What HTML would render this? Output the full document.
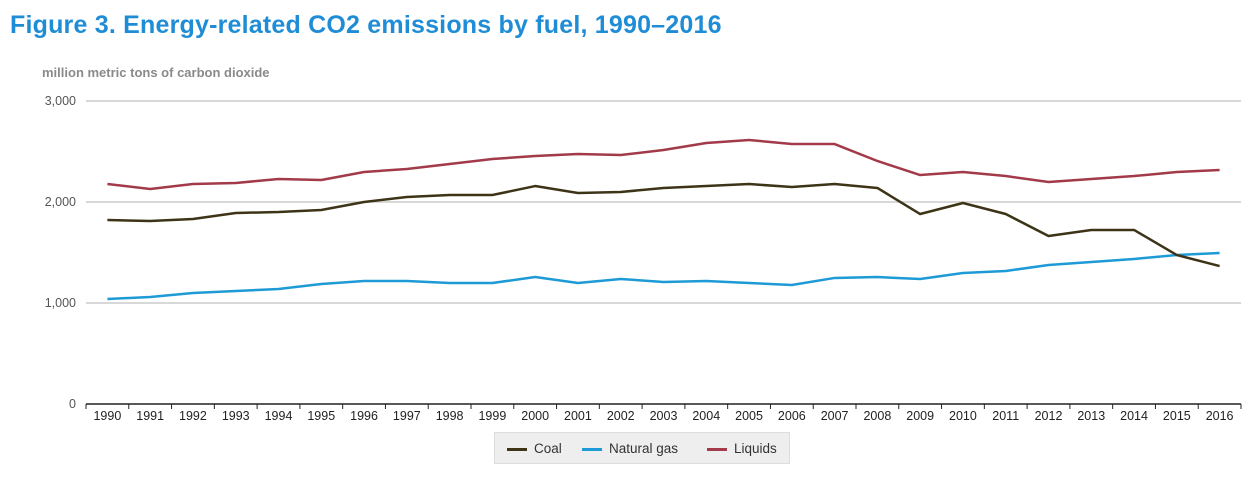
<!DOCTYPE html>
<html><head><meta charset="utf-8"><style>
body{margin:0;background:#fff;width:1256px;height:482px;overflow:hidden;font-family:"Liberation Sans",sans-serif}
</style></head><body>
<div style="position:absolute;left:10px;top:11px;font-size:25px;font-weight:bold;color:#1f8dd6;letter-spacing:0.2px">Figure 3. Energy-related CO2 emissions by fuel, 1990–2016</div>
<svg id="c" width="1256" height="482" style="position:absolute;left:0;top:0">
<text x="42" y="77" font-size="13" font-weight="bold" fill="#8a8a8a">million metric tons of carbon dioxide</text>
</svg>
<script>
const years=[1990,1991,1992,1993,1994,1995,1996,1997,1998,1999,2000,2001,2002,2003,2004,2005,2006,2007,2008,2009,2010,2011,2012,2013,2014,2015,2016];
const coal=[1822,1812,1832,1891,1901,1921,2000,2050,2069,2069,2158,2089,2099,2139,2158,2178,2148,2178,2139,1881,1990,1881,1663,1723,1723,1475,1366];
const gas=[1040,1059,1099,1119,1139,1188,1218,1218,1198,1198,1257,1198,1238,1208,1218,1198,1178,1248,1257,1238,1297,1317,1376,1406,1436,1475,1495];
const liquids=[2178,2129,2178,2188,2228,2218,2297,2327,2376,2426,2455,2475,2465,2515,2584,2614,2574,2574,2406,2267,2297,2257,2198,2228,2257,2297,2317];
const yTicks=[0,1000,2000,3000];
const yLabels=["0","1,000","2,000","3,000"];
const svg=document.getElementById('c');const NS='http://www.w3.org/2000/svg';
const x0=86,x1=1241,yB=404,yT=101;
const band=(x1-x0)/years.length;
const X=i=>x0+band*(i+0.5);
const Y=v=>yB-(v/3000)*(yB-yT);
function mk(t,a){const e=document.createElementNS(NS,t);for(const k in a)e.setAttribute(k,a[k]);svg.appendChild(e);return e;}
yTicks.forEach((v,i)=>{
 if(v>0){const l=mk('line',{x1:x0,x2:x1,y1:Y(v),y2:Y(v),stroke:'#cccccc','stroke-width':1.5});
 
 }
 const t=mk('text',{x:76,y:Y(v)+4,'font-size':12.5,fill:'#555','text-anchor':'end'});t.textContent=yLabels[i];
 
 
});
const ax=mk('line',{x1:x0,x2:x1,y1:yB,y2:yB,stroke:'#222','stroke-width':1.5});


for(let i=0;i<=years.length;i++){const tk=mk('line',{x1:x0+band*i,x2:x0+band*i,y1:yB,y2:yB+5,stroke:'#222','stroke-width':1});

}
years.forEach((y,i)=>{const t=mk('text',{x:X(i),y:yB+16,'font-size':12.5,fill:'#222','text-anchor':'middle'});t.textContent=y;

});
function line(d,c,n){const p=mk('polyline',{points:d.map((v,i)=>X(i)+','+Y(v)).join(' '),fill:'none',stroke:c,'stroke-width':2.5,'stroke-linejoin':'round'});

}
line(liquids,'#a33a4a','liquids-line');
line(gas,'#1e9ad6','natural-gas-line');
line(coal,'#3d3418','coal-line');
</script>
<div style="position:absolute;left:494px;top:432px;width:296px;height:32px;background:#eeeeee;border:1px solid #ddd;box-sizing:border-box;font-size:13.5px;color:#333">
<div style="position:absolute;left:12px;top:8px"><span style="display:inline-block;width:20px;height:3px;background:#3d3418;vertical-align:middle;margin-right:7px"></span>Coal</div>
<div style="position:absolute;left:87px;top:8px"><span style="display:inline-block;width:20px;height:3px;background:#1e9ad6;vertical-align:middle;margin-right:7px"></span>Natural gas</div>
<div style="position:absolute;left:212px;top:8px"><span style="display:inline-block;width:20px;height:3px;background:#a33a4a;vertical-align:middle;margin-right:7px"></span>Liquids</div>
</div>
</body></html>
